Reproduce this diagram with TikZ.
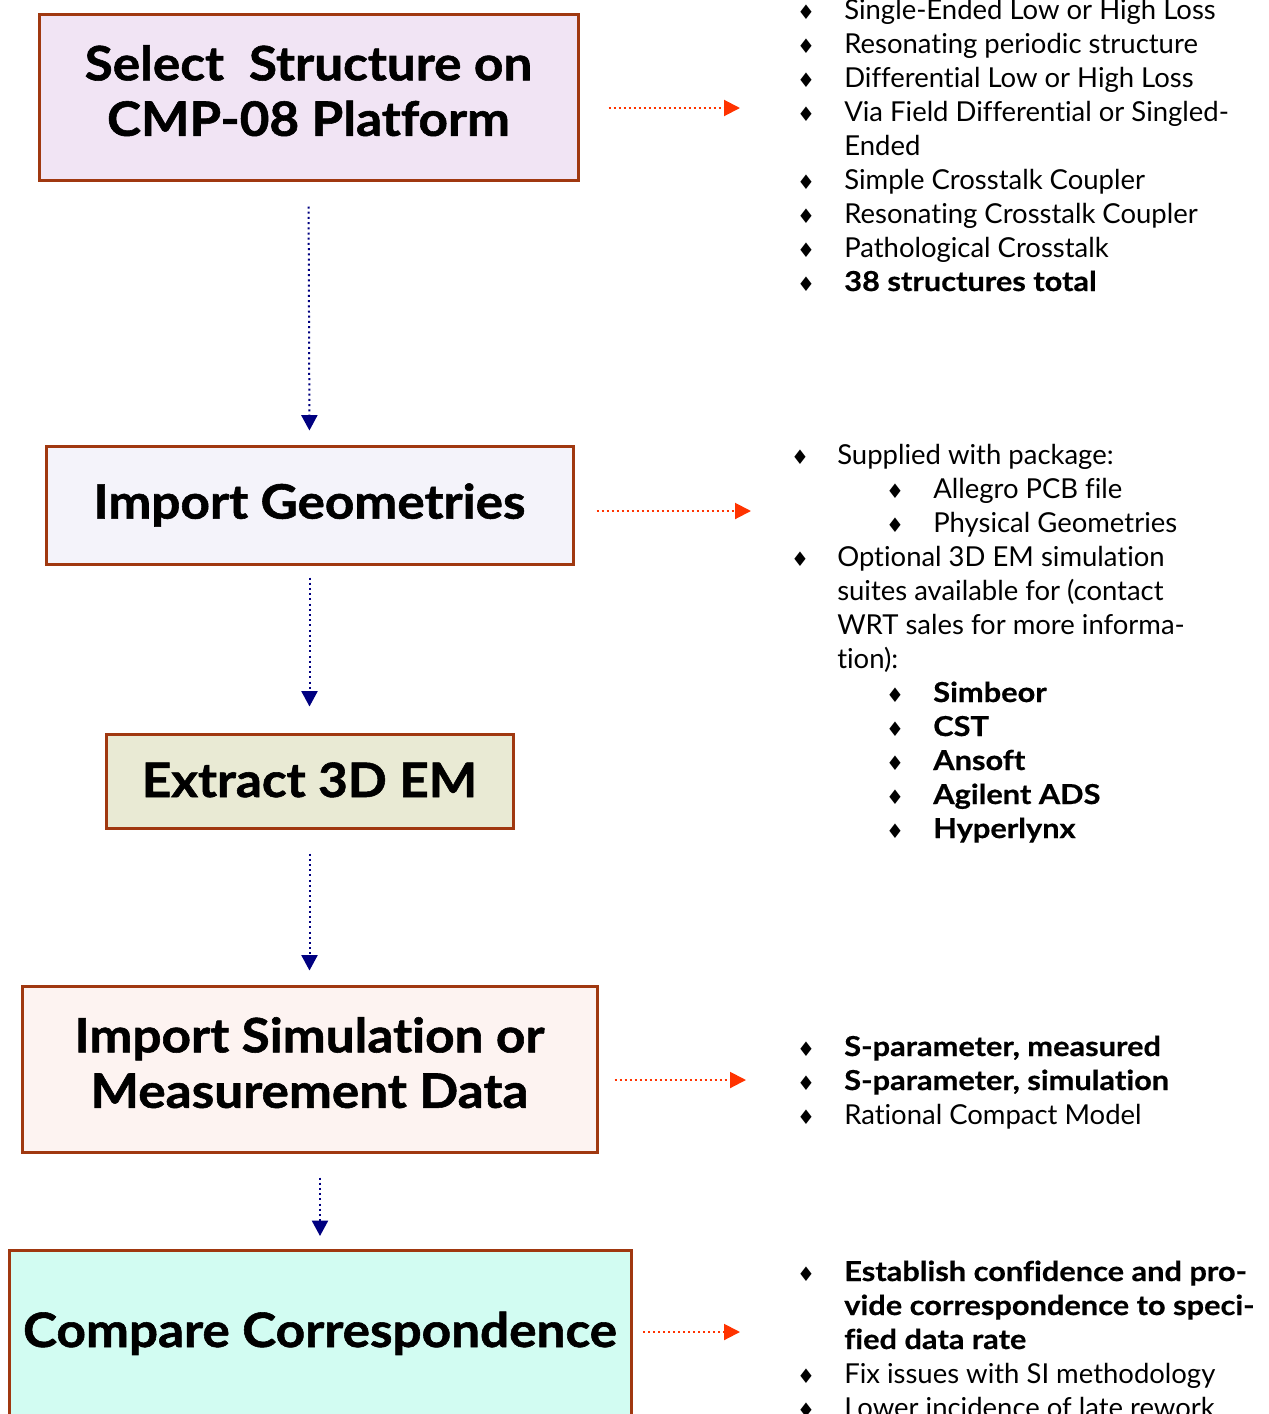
\documentclass[tikz,border=0pt]{standalone}
\usepackage{fontspec}
\setmainfont{Lato}[Ligatures=NoCommon, BoldFeatures={FakeStretch=1.12, FakeBold=0.6}]
\newfontfamily\boxfont{Lato}[Ligatures=NoCommon, BoldFeatures={FakeStretch=1.08, FakeBold=1.2}]
\newfontfamily\dejavu{DejaVu Sans}
\usetikzlibrary{arrows.meta}
\definecolor{bord}{RGB}{160,56,16}
\definecolor{fillA}{RGB}{241,228,244}
\definecolor{fillB}{RGB}{244,243,250}
\definecolor{fillC}{RGB}{233,234,212}
\definecolor{fillD}{RGB}{253,243,241}
\definecolor{fillE}{RGB}{210,252,242}
\definecolor{flowblue}{RGB}{0,0,128}
\definecolor{flowred}{RGB}{255,51,0}
\newcommand\litem[5]{%
  \node[bul] (#1b) at (#2,#4) {\dejavu ♦};
  \node[btxt] (#1) at (#3,#4) {#5};}
\newcommand\twolines[3]{\raisebox{#1}{\begin{tabular}{@{}c@{}}#2\\#3\end{tabular}}}
\begin{document}
\begin{tikzpicture}[x=0.75pt,y=-0.75pt,
  boxtext/.style={font=\boxfont\bfseries\fontsize{35.6pt}{41.6pt}\selectfont},
  box/.style={draw=bord, line width=2.25pt, inner sep=0pt, align=center, boxtext},
  btxt/.style={anchor=base west, inner sep=0pt, font=\fontsize{20.6pt}{25.5pt}\selectfont},
  bul/.style={anchor=base, inner sep=0pt, font=\fontsize{15pt}{15pt}\selectfont},
  bluearrow/.style={draw=flowblue, line width=1.5pt, dash pattern=on 1.5pt off 2.4pt,
    -{Triangle[length=11.5pt, width=12pt, fill=flowblue]}},
  redarrow/.style={draw=flowred, line width=1.5pt, dash pattern=on 1.5pt off 2.25pt,
    -{Triangle[length=12pt, width=12pt, fill=flowred]}}]
\useasboundingbox (0,0) rectangle (1269,1414);
\clip (0,0) rectangle (1269,1414);

% boxes
\node[box, fill=fillA, minimum width=539*0.75pt, minimum height=166*0.75pt] (b1) at (308.5,97)
  {\twolines{2pt}{Select\ \ Structure on}{CMP-08 Platform}};
\node[box, fill=fillB, minimum width=527*0.75pt, minimum height=118*0.75pt] (b2) at (309.5,505)
  {Import Geometries};
\node[box, fill=fillC, minimum width=407*0.75pt, minimum height=94*0.75pt] (b3) at (309.5,781)
  {\raisebox{2pt}{Extract 3D EM}};
\node[box, fill=fillD, minimum width=575*0.75pt, minimum height=166*0.75pt] (b4) at (309.5,1069)
  {\twolines{3.5pt}{Import Simulation or}{Measurement Data}};
\draw[draw=bord, line width=2.25pt, fill=fillE] (9,1450) |- (631,1250) -- (631,1450);
\coordinate (b5n) at (320,1250);
\node[boxtext, inner sep=0pt, anchor=base] (b5) at (320,1347)
  {Compare Correspondence};

% flow arrows
\draw[bluearrow, shorten <=25*0.75pt, shorten >=14*0.75pt] (b1.south) -- (b2.north);
\draw[bluearrow, shorten <=12*0.75pt, shorten >=26*0.75pt] (b2.south) -- (b3.north);
\draw[bluearrow, shorten <=24*0.75pt, shorten >=14*0.75pt] (b3.south) -- (b4.north);
\draw[bluearrow, shorten <=24*0.75pt, shorten >=14*0.75pt] (b4.south -| b5n) -- (b5n);

\coordinate (r1) at (740,108);
\coordinate (r2) at (751,511);
\coordinate (r3) at (746,1080);
\coordinate (r4) at (740,1332);
\draw[redarrow, shorten <=29*0.75pt] (b1.east |- r1) -- (r1);
\draw[redarrow, shorten <=22*0.75pt] (b2.east |- r2) -- (r2);
\draw[redarrow, shorten <=16*0.75pt] (b4.east |- r3) -- (r3);
\draw[redarrow, shorten <=12*0.75pt] (631,1332) -- (r4);

% list 1
\litem{a1}{806}{844}{19}{Single-Ended Low or High Loss}
\litem{a2}{806}{844}{53}{Resonating periodic structure}
\litem{a3}{806}{844}{87}{Differential Low or High Loss}
\litem{a4}{806}{844}{121}{Via Field Differential or Singled-}
\node[btxt] (a4c) at (844,155) {Ended};
\litem{a5}{806}{844}{189}{Simple Crosstalk Coupler}
\litem{a6}{806}{844}{223}{Resonating Crosstalk Coupler}
\litem{a7}{806}{844}{257}{Pathological Crosstalk}
\litem{a8}{806}{844}{291}{\bfseries 38 structures total}

% list 2
\litem{c1}{800}{837}{464}{Supplied with package:}
\litem{c2}{895}{933}{498}{Allegro PCB file}
\litem{c3}{895}{933}{532}{Physical Geometries}
\litem{c4}{800}{837}{566}{Optional 3D EM simulation}
\node[btxt] (c4a) at (837,600) {suites available for (contact};
\node[btxt] (c4b) at (837,634) {WRT sales for more informa-};
\node[btxt] (c4c) at (837,668) {tion):};
\litem{c5}{895}{933}{702}{\bfseries Simbeor}
\litem{c6}{895}{933}{736}{\bfseries CST}
\litem{c7}{895}{933}{770}{\bfseries Ansoft}
\litem{c8}{895}{933}{804}{\bfseries Agilent ADS}
\litem{c9}{895}{933}{838}{\bfseries Hyperlynx}

% list 3
\litem{d1}{806}{844}{1056}{\bfseries S-parameter, measured}
\litem{d2}{806}{844}{1090}{\bfseries S-parameter, simulation}
\litem{d3}{806}{844}{1124}{Rational Compact Model}

% list 4
\litem{e1}{806}{844}{1281}{\bfseries Establish confidence and pro-}
\node[btxt, font=\bfseries\fontsize{20.6pt}{25.5pt}\selectfont] (e1a) at (844,1315) {vide correspondence to speci-};
\node[btxt, font=\bfseries\fontsize{20.6pt}{25.5pt}\selectfont] (e1b) at (844,1349) {fied data rate};
\litem{e2}{806}{844}{1383}{Fix issues with SI methodology}
\litem{e3}{806}{844}{1417}{Lower incidence of late rework}
\end{tikzpicture}
\end{document}
